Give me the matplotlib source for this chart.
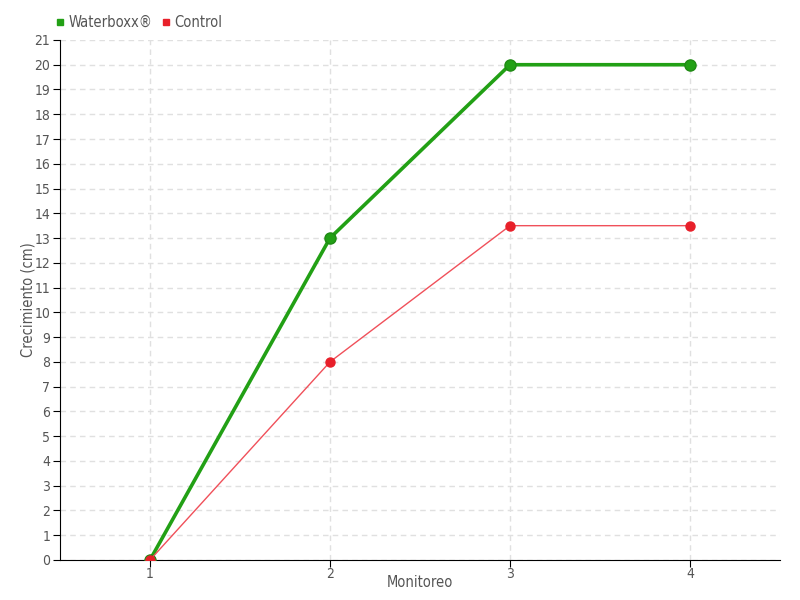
import matplotlib
matplotlib.use("Agg")
import matplotlib.pyplot as plt

monitoreo = [1, 2, 3, 4]
waterboxx = [0, 13, 20, 20]
control = [0, 8, 13.5, 13.5]
yticks = list(range(0, 22))

plt.rcParams['font.family'] = ['DejaVu Sans']
plt.rcParams['font.stretch'] = 'condensed'
fig = plt.figure(figsize=(8, 6), dpi=100)
ax = fig.add_axes([0.075, 0.0667, 0.9, 0.8667])

green = '#22a015'
red = '#e8202a'
ax.plot(monitoreo, waterboxx, color=green, lw=2.6, marker='o', ms=8,
        markeredgecolor='#1f8a14', label='Waterboxx®', zorder=3)
ax.plot(monitoreo, control, color='#f0505a', lw=1, marker='o', ms=6.5,
        markerfacecolor=red, markeredgecolor=red, label='Control', zorder=4)

ax.set_xlim(0.5, 4.5)
ax.set_ylim(0, 21)
ax.set_xticks(monitoreo)
ax.set_yticks(yticks)
ax.grid(True, color='#e0e0e0', linestyle=(0, (4, 3)), lw=1)
ax.set_axisbelow(True)
for s in ['top', 'right']:
    ax.spines[s].set_visible(False)
ax.spines['left'].set_color('black')
ax.spines['bottom'].set_color('black')
ax.tick_params(axis='both', colors='black', labelcolor='#555555', labelsize=10, length=5, pad=2)
ax.tick_params(axis='x', pad=0)
ax.set_xlabel('Monitoreo', color='#555555', fontsize=10.5, labelpad=-4)
ax.set_ylabel('Crecimiento (cm)', color='#555555', fontsize=10.5, labelpad=-1)

leg = fig.legend(loc='upper left', bbox_to_anchor=(0.053, 0.997), ncol=2, frameon=False,
                 handlelength=0.6, handletextpad=0.3, columnspacing=0.6,
                 fontsize=10.5, labelcolor='#555555',
                 handles=[plt.Line2D([], [], marker='s', ls='', color=green, ms=5),
                          plt.Line2D([], [], marker='s', ls='', color=red, ms=5)],
                 labels=['Waterboxx®', 'Control'])

fig.savefig('out.png', dpi=100)
